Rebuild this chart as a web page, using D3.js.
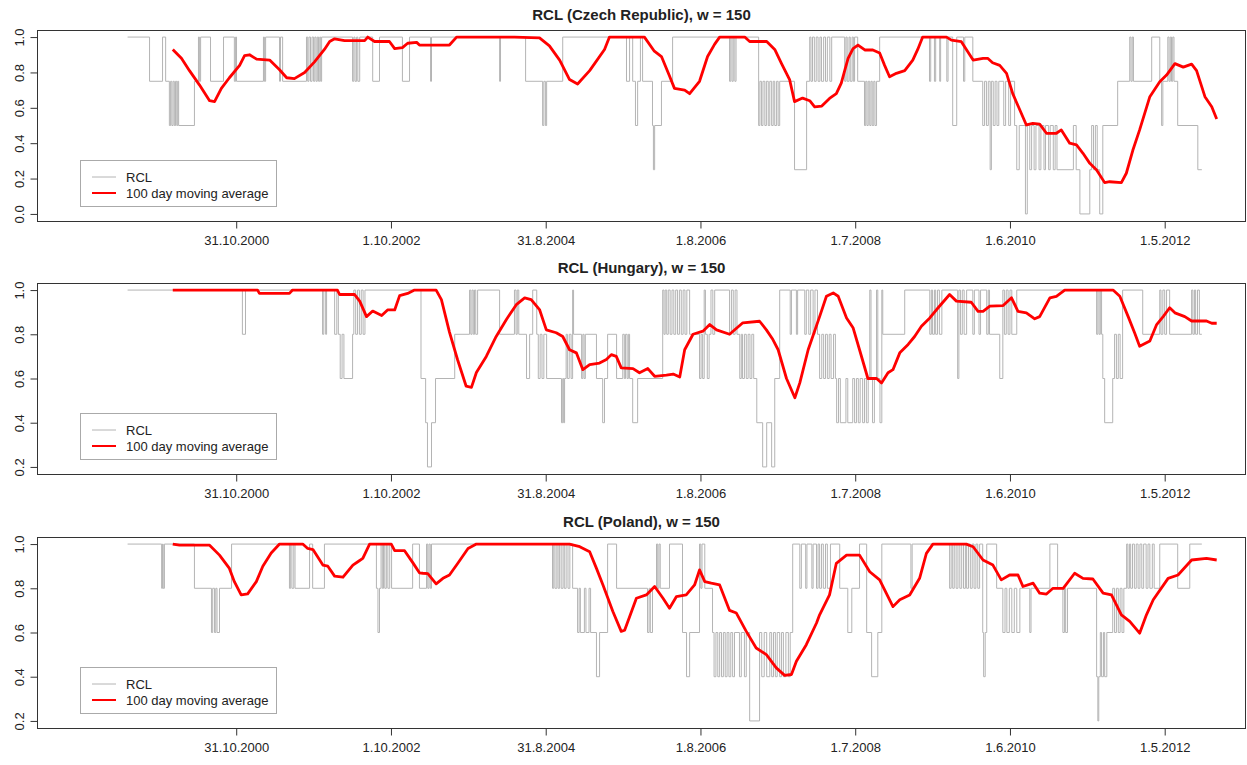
<!DOCTYPE html>
<html>
<head>
<meta charset="utf-8">
<style>
body { margin: 0; background: #fff; }
svg { font-family: "Liberation Sans", Arial, sans-serif; }
.frame { fill: none; stroke: #333; stroke-width: 1px; }
.rcl { fill: none; stroke: #b4b4b4; stroke-width: 1px; }
.ma { fill: none; stroke: #ff0000; stroke-width: 2.8px; stroke-linejoin: round; }
.title { font-weight: bold; font-size: 15px; fill: #222; }
.tick text { font-size: 13px; fill: #222; }
</style>
</head>
<body>
<svg></svg>
<script src="https://cdnjs.cloudflare.com/ajax/libs/d3/7.8.5/d3.min.js"></script>
<script>
// observation index where each date label sits
var tickIndex = [500, 1000, 1500, 2000, 2500, 3000, 3500];
var tickLabels = ["31.10.2000", "1.10.2002", "31.8.2004", "1.8.2006", "1.7.2008", "1.6.2010", "1.5.2012"];
var firstObs = 1, lastObs = 3618;

var titles = ["RCL (Czech Republic), w = 150", "RCL (Hungary), w = 150", "RCL (Poland), w = 150"];

// RCL step series: [observation, value] change points
var czRcl = [[149,1],[220,.75],[262,1],[272,.75],[284,.5],[288,.75],[292,.5],[296,.75],[300,.5],[304,.75],[308,.5],[311,.75],[314,.5],[365,.75],[378,1],[381,.75],[385,1],[417,.75],[459,1],[494,.75],[498,1],[501,.75],[588,1],[591,.75],[595,1],[640,.75],[643,1],[650,.75],[727,1],[731,.75],[735,1],[740,.75],[745,1],[750,.75],[754,1],[758,.75],[762,1],[766,.75],[770,1],[773,.75],[776,1],[876,.75],[880,1],[884,.75],[889,1],[893,.75],[899,1],[941,.75],[963,1],[1037,.75],[1060,1],[1128,.75],[1131,1],[1351,.75],[1354,1],[1435,.75],[1490,.5],[1494,.75],[1499,.5],[1503,.75],[1555,1],[1761,.75],[1771,1],[1781,.75],[1790,.5],[1797,.75],[1806,1],[1813,.75],[1845,.5],[1848,.25],[1852,.5],[1874,.75],[1910,1],[2094,.75],[2098,1],[2102,.75],[2106,1],[2111,.75],[2115,1],[2188,.5],[2192,.75],[2197,.5],[2202,.75],[2208,.5],[2213,.75],[2219,.5],[2224,.75],[2230,.5],[2235,.75],[2240,.5],[2246,.75],[2251,.5],[2256,.75],[2304,.25],[2343,.75],[2353,1],[2357,.75],[2362,1],[2368,.75],[2374,1],[2380,.75],[2386,1],[2391,.75],[2398,1],[2404,.75],[2410,1],[2418,.75],[2424,1],[2466,.75],[2470,1],[2474,.75],[2480,1],[2484,.75],[2490,1],[2494,.75],[2498,1],[2508,.75],[2530,.5],[2534,.75],[2538,.5],[2542,.75],[2547,.5],[2551,.75],[2555,.5],[2560,.75],[2564,.5],[2569,.75],[2579,1],[2740,.75],[2744,1],[2756,.75],[2760,1],[2773,.75],[2776,1],[2796,.75],[2800,1],[2815,.5],[2828,1],[2850,.75],[2854,1],[2880,.75],[2912,.5],[2918,.75],[2924,.5],[2930,.75],[2936,.25],[2940,.75],[2946,.5],[2952,.75],[2958,.5],[2964,.75],[2980,.5],[2986,.75],[2996,.5],[3002,.75],[3015,.5],[3022,.25],[3030,.5],[3050,0],[3056,.5],[3064,.25],[3070,.5],[3078,.25],[3084,.5],[3094,.25],[3100,.5],[3110,.25],[3115,.5],[3125,.25],[3130,.5],[3140,.25],[3146,.5],[3152,.25],[3205,.5],[3214,.25],[3226,0],[3258,.25],[3264,.5],[3270,.25],[3276,.5],[3282,.25],[3290,0],[3300,.5],[3348,.75],[3387,1],[3391,.75],[3395,1],[3399,.75],[3458,1],[3484,.75],[3490,.5],[3494,.75],[3510,1],[3514,.75],[3518,1],[3522,.75],[3526,1],[3530,.75],[3542,.5],[3607,.25],[3620,.25]];

var huRcl = [[149,1],[520,.8],[530,1],[779,.8],[783,1],[789,.8],[792,1],[818,.8],[825,1],[830,.8],[836,.6],[842,.8],[848,.6],[876,.8],[880,1],[886,.8],[892,1],[898,.8],[904,1],[910,.8],[916,1],[1097,.6],[1112,.4],[1118,.2],[1131,.4],[1144,.6],[1206,.8],[1254,1],[1258,.8],[1262,1],[1266,.8],[1270,1],[1274,.8],[1280,1],[1351,.8],[1399,1],[1404,.8],[1408,1],[1413,.8],[1438,.6],[1448,.8],[1458,1],[1471,.8],[1476,.6],[1482,.8],[1488,.6],[1494,.8],[1503,.6],[1551,.4],[1555,.6],[1558,.4],[1561,.6],[1566,.8],[1570,.6],[1576,.8],[1582,.6],[1587,1],[1590,.8],[1616,.6],[1620,.8],[1624,.6],[1628,.8],[1664,.6],[1684,.4],[1690,.6],[1700,.8],[1729,.6],[1749,.8],[1754,.6],[1758,.8],[1763,.6],[1767,.8],[1771,.6],[1781,.4],[1797,.6],[1878,1],[1882,.8],[1886,1],[1891,.8],[1896,1],[1902,.8],[1908,1],[1914,.8],[1920,1],[1926,.8],[1932,1],[1938,.8],[1944,1],[1950,.8],[1956,1],[1965,.8],[1997,.6],[2002,.8],[2007,.6],[2012,1],[2016,.8],[2022,.6],[2028,.8],[2034,1],[2040,.8],[2046,1],[2094,.8],[2100,1],[2106,.8],[2112,1],[2118,.8],[2127,.6],[2132,.8],[2136,.6],[2142,.8],[2148,.6],[2154,.8],[2160,.6],[2166,.8],[2172,.6],[2182,.4],[2201,.2],[2214,.4],[2230,.2],[2240,.6],[2256,1],[2290,.8],[2294,1],[2310,.8],[2314,1],[2337,.8],[2342,1],[2350,.8],[2356,1],[2364,.8],[2370,1],[2378,.8],[2385,.6],[2392,.8],[2398,.6],[2404,.8],[2410,.6],[2416,.8],[2422,.6],[2430,.8],[2436,.6],[2440,.4],[2446,.6],[2452,.4],[2470,.6],[2476,.4],[2492,.6],[2498,.4],[2504,.6],[2510,.4],[2516,.6],[2524,.4],[2530,.6],[2536,.4],[2542,.6],[2547,1],[2551,.6],[2556,.4],[2562,.6],[2569,1],[2573,.6],[2580,.4],[2586,1],[2589,.8],[2660,1],[2741,.8],[2746,1],[2750,.8],[2756,1],[2760,.8],[2766,1],[2772,.8],[2780,1],[2831,.6],[2835,1],[2840,.8],[2846,1],[2852,.8],[2860,1],[2880,.8],[2885,1],[2900,.8],[2905,1],[2925,.8],[2930,1],[2934,.8],[2967,.6],[2977,1],[2982,.8],[2988,1],[2994,.8],[3000,1],[3006,.8],[3022,1],[3280,.8],[3284,1],[3288,.8],[3292,1],[3296,.8],[3300,.6],[3306,.4],[3332,.6],[3338,.8],[3344,.6],[3350,.8],[3356,.6],[3364,1],[3429,.8],[3484,1],[3488,.8],[3494,1],[3500,.8],[3506,1],[3516,.8],[3587,1],[3591,.8],[3596,1],[3600,.8],[3606,1],[3612,.8],[3620,.8]];

var plRcl = [[149,1],[259,.8],[262,1],[264,.8],[268,1],[365,.8],[420,.6],[424,.8],[430,.6],[434,.8],[438,.6],[446,.8],[485,1],[672,.8],[676,1],[680,.8],[686,1],[690,.8],[737,1],[747,.8],[785,1],[953,.8],[958,.6],[963,.8],[968,1],[972,.8],[976,1],[980,.8],[985,1],[990,.8],[996,1],[1002,.8],[1070,1],[1092,.8],[1115,1],[1119,.8],[1123,1],[1127,.8],[1131,1],[1522,.8],[1526,1],[1530,.8],[1536,1],[1540,.8],[1545,1],[1550,.8],[1556,1],[1560,.8],[1566,1],[1572,.8],[1578,1],[1587,.8],[1603,.6],[1608,.8],[1612,.6],[1625,.8],[1630,.6],[1640,.8],[1645,.6],[1664,.4],[1674,.6],[1700,1],[1729,.8],[1829,.6],[1834,.8],[1838,.6],[1845,.8],[1858,1],[1862,.8],[1866,1],[1870,.8],[1900,1],[1942,.6],[1955,.4],[1965,.6],[1997,1],[2001,.8],[2005,1],[2014,.8],[2039,.6],[2044,.4],[2050,.6],[2056,.4],[2062,.6],[2068,.4],[2074,.6],[2080,.4],[2086,.6],[2092,.4],[2098,.6],[2104,.4],[2110,.6],[2126,.4],[2132,.6],[2142,.4],[2148,.6],[2159,.2],[2191,.6],[2198,.4],[2206,.6],[2214,.4],[2224,.6],[2230,.4],[2236,.6],[2242,.4],[2248,.6],[2256,.4],[2262,.6],[2268,.4],[2276,.6],[2284,.4],[2290,.6],[2298,1],[2321,.8],[2326,1],[2340,.8],[2344,1],[2360,.8],[2364,1],[2375,.8],[2380,1],[2385,.8],[2391,1],[2397,.8],[2404,1],[2410,.8],[2420,1],[2450,.8],[2476,.6],[2489,.8],[2514,1],[2537,.6],[2553,.4],[2573,.6],[2586,1],[2680,.8],[2684,1],[2805,.8],[2810,1],[2815,.8],[2820,1],[2826,.8],[2832,1],[2838,.8],[2844,1],[2850,.8],[2856,1],[2860,.8],[2866,1],[2872,.8],[2878,1],[2884,.8],[2890,1],[2896,.8],[2902,1],[2912,.6],[2915,.4],[2920,.6],[2925,1],[2957,.8],[2977,.6],[2984,.8],[2990,.6],[2998,.8],[3006,.6],[3014,.8],[3022,.6],[3032,.8],[3064,.6],[3068,.8],[3129,1],[3154,.8],[3171,.6],[3176,.8],[3180,.6],[3186,.8],[3280,.4],[3284,.2],[3287,.4],[3292,.6],[3296,.4],[3302,.6],[3306,.4],[3313,.6],[3332,.8],[3338,.6],[3344,.8],[3350,.6],[3356,.8],[3362,.6],[3368,.8],[3377,1],[3381,.8],[3386,1],[3390,.8],[3396,1],[3402,.8],[3408,1],[3414,.8],[3420,1],[3426,.8],[3432,1],[3440,.8],[3446,1],[3452,.8],[3460,1],[3466,.8],[3484,1],[3542,.8],[3581,1],[3620,1]];

// 100 day moving average: [observation, value]
var czMa = [[295,.93],[323,.88],[349,.81],[381,.73],[414,.64],[430,.635],[452,.71],[478,.77],[511,.84],[527,.895],[543,.90],[566,.875],[608,.87],[640,.815],[663,.77],[688,.765],[721,.80],[753,.86],[785,.93],[802,.975],[818,.99],[850,.98],[915,.98],[925,1],[947,.975],[995,.975],[1012,.935],[1037,.94],[1054,.965],[1083,.97],[1092,.955],[1189,.955],[1212,1],[1399,1],[1480,.995],[1512,.95],[1545,.87],[1577,.76],[1603,.735],[1642,.81],[1690,.93],[1706,1],[1819,1],[1851,.92],[1874,.89],[1900,.78],[1916,.71],[1949,.70],[1965,.68],[1997,.75],[2023,.89],[2046,.96],[2062,1],[2143,1],[2159,.975],[2214,.975],[2240,.93],[2262,.85],[2288,.76],[2304,.635],[2330,.655],[2353,.64],[2369,.605],[2392,.61],[2417,.653],[2439,.68],[2455,.74],[2466,.81],[2477,.88],[2493,.935],[2509,.955],[2531,.927],[2557,.927],[2579,.91],[2595,.84],[2611,.776],[2633,.795],[2660,.81],[2686,.87],[2702,.93],[2718,1],[2795,1],[2811,.983],[2843,.974],[2881,.87],[2913,.88],[2928,.88],[2944,.855],[2967,.84],[2989,.795],[3009,.68],[3032,.588],[3053,.503],[3074,.512],[3096,.508],[3118,.456],[3150,.456],[3166,.475],[3193,.40],[3215,.39],[3236,.343],[3258,.286],[3280,.249],[3306,.177],[3322,.182],[3360,.177],[3376,.23],[3397,.36],[3419,.475],[3452,.663],[3484,.747],[3506,.785],[3533,.85],[3560,.83],[3587,.847],[3603,.81],[3630,.663],[3652,.606],[3668,.537]];

var huMa = [[295,1],[569,1],[575,.985],[672,.985],[682,1],[827,1],[834,.98],[882,.98],[899,.95],[921,.88],[941,.905],[970,.885],[989,.91],[1012,.91],[1028,.975],[1054,.985],[1076,1],[1146,1],[1163,.957],[1189,.81],[1215,.686],[1243,.565],[1260,.56],[1276,.627],[1308,.70],[1340,.79],[1373,.867],[1405,.934],[1432,.965],[1453,.957],[1480,.912],[1502,.82],[1534,.807],[1555,.79],[1577,.73],[1599,.716],[1620,.64],[1642,.663],[1674,.67],[1696,.686],[1712,.708],[1728,.70],[1744,.648],[1782,.645],[1803,.626],[1830,.645],[1852,.61],[1890,.615],[1912,.62],[1933,.607],[1949,.73],[1976,.80],[2008,.814],[2030,.844],[2052,.82],[2094,.80],[2137,.852],[2191,.859],[2213,.82],[2234,.776],[2251,.73],[2278,.60],[2305,.513],[2321,.58],[2348,.73],[2385,.88],[2407,.972],[2429,.987],[2445,.972],[2472,.874],[2493,.83],[2514,.73],[2541,.60],[2569,.60],[2585,.58],[2606,.626],[2622,.64],[2644,.716],[2671,.754],[2692,.79],[2714,.836],[2741,.874],[2768,.92],[2805,.98],[2827,.95],[2875,.945],[2897,.904],[2913,.904],[2935,.927],[2978,.93],[3005,.965],[3026,.904],[3053,.897],[3080,.87],[3096,.88],[3129,.965],[3150,.972],[3177,1],[3333,1],[3355,.972],[3382,.88],[3403,.806],[3419,.746],[3452,.77],[3474,.844],[3495,.88],[3516,.92],[3533,.897],[3565,.88],[3587,.86],[3635,.86],[3652,.85],[3668,.85]];

var plMa = [[295,1],[317,.995],[414,.995],[446,.95],[478,.89],[494,.83],[516,.77],[537,.775],[565,.83],[586,.90],[613,.96],[640,1],[715,1],[731,.98],[748,.975],[780,.905],[796,.90],[818,.855],[845,.85],[877,.905],[893,.92],[909,.935],[931,1],[1001,1],[1012,.97],[1044,.97],[1071,.915],[1092,.87],[1103,.868],[1119,.866],[1146,.82],[1168,.845],[1189,.86],[1216,.913],[1249,.98],[1276,1],[1577,1],[1610,.988],[1642,.965],[1664,.89],[1685,.815],[1717,.695],[1744,.605],[1755,.61],[1793,.755],[1825,.77],[1852,.808],[1879,.755],[1900,.71],[1922,.762],[1954,.77],[1981,.815],[1997,.883],[2014,.83],[2035,.823],[2062,.815],[2094,.70],[2116,.688],[2148,.605],[2180,.53],[2213,.50],[2245,.44],[2272,.406],[2294,.41],[2310,.47],[2342,.545],[2375,.643],[2385,.68],[2417,.77],[2439,.913],[2472,.95],[2514,.95],[2547,.875],[2579,.838],[2622,.717],[2644,.748],[2676,.77],[2708,.845],[2730,.958],[2751,1],[2859,1],[2881,.988],[2913,.928],[2945,.905],[2972,.838],[2999,.86],[3026,.86],[3042,.808],[3075,.823],[3096,.778],[3118,.774],[3139,.80],[3172,.80],[3209,.868],[3236,.845],[3268,.842],[3301,.778],[3328,.77],[3360,.68],[3387,.65],[3419,.597],[3441,.68],[3463,.748],[3511,.845],[3543,.86],[3587,.928],[3635,.935],[3668,.928]];

var czTicks = [0, 0.2, 0.4, 0.6, 0.8, 1.0];
var ceeTicks = [0.2, 0.4, 0.6, 0.8, 1.0];

var panels = [
  { title: titles[0], rcl: czRcl, ma: czMa, ymin: 0, ticks: czTicks, top: 30 },
  { title: titles[1], rcl: huRcl, ma: huMa, ymin: 0.2, ticks: ceeTicks, top: 283 },
  { title: titles[2], rcl: plRcl, ma: plMa, ymin: 0.2, ticks: ceeTicks, top: 537 }
];

var width = 1247, height = 765;
var left = 37, right = 1246, plotH = 191;

var svg = d3.select("svg").attr("width", width).attr("height", height);

// R style 4% axis padding
var span = lastObs - firstObs;
var x = d3.scaleLinear()
    .domain([firstObs - span * 0.04, lastObs + span * 0.04])
    .range([left, right]);

panels.forEach(function(p) {
  var pad = (1 - p.ymin) * 0.04;
  var y = d3.scaleLinear()
      .domain([p.ymin - pad, 1 + pad])
      .range([p.top + plotH, p.top]);

  var g = svg.append("g");

  var step = d3.line()
      .x(function(d) { return x(d[0]); })
      .y(function(d) { return y(d[1]); })
      .curve(d3.curveStepAfter);

  var ma = d3.line()
      .x(function(d) { return x(d[0]); })
      .y(function(d) { return y(d[1]); });

  g.append("path").attr("class", "rcl").attr("d", step(p.rcl));
  g.append("path").attr("class", "ma").attr("d", ma(p.ma));

  g.append("rect").attr("class", "frame")
      .attr("x", left + 0.5).attr("y", p.top + 0.5)
      .attr("width", right - left - 1).attr("height", plotH);

  var xAxis = g.append("g")
      .attr("transform", "translate(0," + (p.top + plotH + 0.5) + ")")
      .call(d3.axisBottom(x).tickValues(tickIndex)
        .tickFormat(function(d, i) { return tickLabels[i]; })
        .tickSize(7).tickPadding(7));
  xAxis.select(".domain").remove();
  xAxis.selectAll("line").attr("stroke", "#333");

  // y axis drawn by hand-off to d3.axisLeft, labels turned like R's las = 0
  var yAxis = g.append("g")
      .attr("transform", "translate(" + (left + 0.5) + ",0)")
      .call(d3.axisLeft(y).tickValues(p.ticks)
        .tickFormat(d3.format(".1f")).tickSize(7));
  yAxis.select(".domain")
      .attr("d", "M0," + y(p.ticks[0]) + "V" + y(1))
      .attr("stroke", "#333");
  yAxis.selectAll(".tick line").attr("stroke", "#333");
  yAxis.selectAll(".tick text")
      .attr("x", 0).attr("y", 0).attr("dy", "0.35em")
      .attr("text-anchor", "middle")
      .attr("transform", "translate(-18,0) rotate(-90)");

  g.append("text").attr("class", "title")
      .attr("x", (left + right) / 2).attr("y", p.top - 10)
      .attr("text-anchor", "middle")
      .text(p.title);

  // legend
  var lg = g.append("g").attr("transform", "translate(80," + (p.top + 130) + ")");
  lg.append("rect").attr("x", 0.5).attr("y", 0.5).attr("width", 196).attr("height", 46)
      .attr("fill", "#fff").attr("stroke", "#aaa");
  lg.append("line").attr("x1", 12).attr("x2", 36).attr("y1", 17).attr("y2", 17)
      .attr("stroke", "#b4b4b4").attr("stroke-width", 1);
  lg.append("line").attr("x1", 12).attr("x2", 36).attr("y1", 33).attr("y2", 33)
      .attr("stroke", "#ff0000").attr("stroke-width", 2);
  lg.append("text").attr("x", 46).attr("y", 17).attr("dy", "0.35em")
      .attr("font-size", 13).attr("fill", "#222").text("RCL");
  lg.append("text").attr("x", 46).attr("y", 33).attr("dy", "0.35em")
      .attr("font-size", 13).attr("fill", "#222").text("100 day moving average");
});
</script>
</body>
</html>
